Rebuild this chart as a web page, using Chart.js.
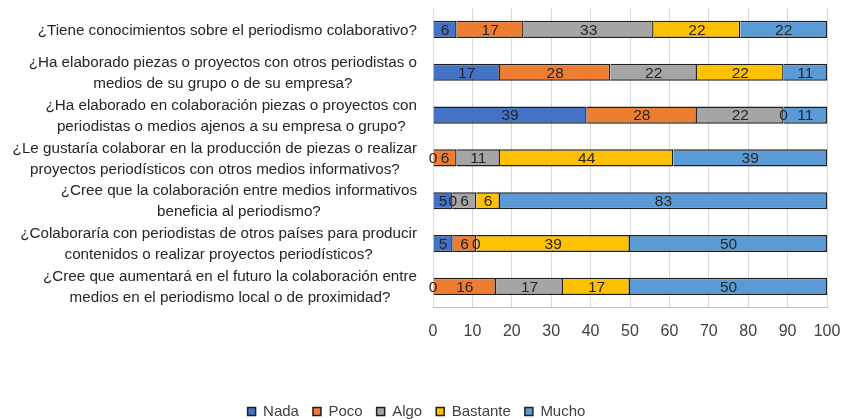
<!DOCTYPE html>
<html>
<head>
<meta charset="utf-8">
<script src="https://cdn.jsdelivr.net/npm/chart.js@4"></script>
<style>
  html, body { margin: 0; padding: 0; background: #fff; }
  #wrap { width: 845px; height: 419px; }
</style>
</head>
<body>
<div id="wrap"><canvas id="chart"></canvas></div>
<script>
// survey questions (one per bar, split into lines)
const questions = [
    ['¿Tiene conocimientos sobre el periodismo colaborativo?'],
    ['¿Ha elaborado piezas o proyectos con otros periodistas o', 'medios de su grupo o de su empresa?'],
    ['¿Ha elaborado en colaboración piezas o proyectos con', 'periodistas o medios ajenos a su empresa o grupo?'],
    ['¿Le gustaría colaborar en la producción de piezas o realizar', 'proyectos periodísticos con otros medios informativos?'],
    ['¿Cree que la colaboración entre medios informativos', 'beneficia al periodismo?'],
    ['¿Colaboraría con periodistas de otros países para producir', 'contenidos o realizar proyectos periodísticos?'],
    ['¿Cree que aumentará en el futuro la colaboración entre', 'medios en el periodismo local o de proximidad?']
];

// percentages per answer
const nada     = [6, 17, 39, 0, 5, 5, 0];
const poco     = [17, 28, 28, 6, 0, 6, 16];
const algo     = [33, 22, 22, 11, 6, 0, 17];
const bastante = [22, 22, 0, 44, 6, 39, 17];
const mucho    = [22, 11, 11, 39, 83, 50, 50];

const xTicks = [0, 10, 20, 30, 40, 50, 60, 70, 80, 90, 100];

const FONT = '"Liberation Sans", Arial, sans-serif';

const series = [
    { label: 'Nada', data: nada, color: '#4472C4' },
    { label: 'Poco', data: poco, color: '#ED7D31' },
    { label: 'Algo', data: algo, color: '#A5A5A5' },
    { label: 'Bastante', data: bastante, color: '#FFC000' },
    { label: 'Mucho', data: mucho, color: '#5B9BD5' }
];

// writes each segment's value in the middle of its bar
const valueLabels = {
    id: 'valueLabels',
    afterDatasetsDraw(chart) {
        const ctx = chart.ctx;
        ctx.save();
        ctx.font = '15.5px ' + FONT;
        ctx.fillStyle = '#262626';
        ctx.textAlign = 'center';
        ctx.textBaseline = 'middle';
        chart.data.datasets.forEach((ds, i) => {
            chart.getDatasetMeta(i).data.forEach((bar, j) => {
                const cx = (bar.x + bar.base) / 2;
                ctx.fillText(String(ds.data[j]), cx, bar.y + 1);
            });
        });
        ctx.restore();
    }
};

// question labels: each block right-aligned to the axis, its lines centred
const questionLabels = {
    id: 'questionLabels',
    afterDraw(chart) {
        const ctx = chart.ctx;
        const yScale = chart.scales.y;
        const right = chart.chartArea.left - 16;
        const lineH = 21;
        ctx.save();
        ctx.font = '15.2px ' + FONT;
        ctx.fillStyle = '#262626';
        ctx.textAlign = 'center';
        ctx.textBaseline = 'middle';
        chart.data.labels.forEach((lines, i) => {
            const w = Math.max(...lines.map(l => ctx.measureText(l).width));
            const cx = right - w / 2;
            const cy = yScale.getPixelForValue(i) + 1;
            const top = cy - (lines.length - 1) * lineH / 2;
            lines.forEach((l, k) => ctx.fillText(l, cx, top + k * lineH));
        });
        ctx.restore();
    }
};

new Chart(document.getElementById('chart'), {
    type: 'bar',
    data: {
        labels: questions,
        datasets: series.map(s => ({
            label: s.label,
            data: s.data,
            backgroundColor: s.color,
            borderColor: '#1f1f1f',
            borderWidth: 1.5,
            barPercentage: 0.8,
            categoryPercentage: 0.5
        }))
    },
    options: {
        indexAxis: 'y',
        responsive: true,
        maintainAspectRatio: false,
        animation: false,
        layout: { padding: { left: 6, right: 18, top: 8, bottom: -10 } },
        scales: {
            x: {
                stacked: true,
                min: 0,
                max: 100,
                afterBuildTicks: scale => { scale.ticks = xTicks.map(v => ({ value: v })); },
                afterFit: scale => {
                    scale.height += 35;
                    scale.paddingLeft = 0;
                    scale.paddingRight = 0;
                },
                grid: { color: '#d9d9d9', lineWidth: 1, drawTicks: false },
                border: { color: '#bfbfbf' },
                ticks: { color: '#404040', font: { family: FONT, size: 16 }, padding: 14 }
            },
            y: {
                stacked: true,
                grid: { display: false },
                border: { display: false },
                ticks: { display: false },
                // fixed column for the question text
                afterFit: scale => {
                    scale.width = 427;
                    scale.paddingTop = 0;
                    scale.paddingBottom = 0;
                }
            }
        },
        plugins: {
            legend: {
                position: 'bottom',
                labels: {
                    color: '#404040',
                    boxWidth: 8,
                    boxHeight: 8,
                    padding: 14,
                    font: { family: FONT, size: 15 }
                }
            },
            tooltip: { enabled: false }
        }
    },
    plugins: [valueLabels, questionLabels]
});
</script>
</body>
</html>
